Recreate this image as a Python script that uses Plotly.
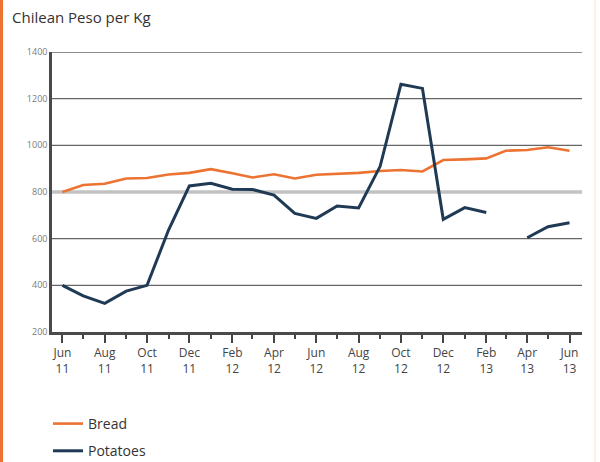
import plotly.graph_objects as go

# Monthly observations, Jun 2011 - Jun 2013
months = [
    "2011-06-01", "2011-07-01", "2011-08-01", "2011-09-01", "2011-10-01",
    "2011-11-01", "2011-12-01", "2012-01-01", "2012-02-01", "2012-03-01",
    "2012-04-01", "2012-05-01", "2012-06-01", "2012-07-01", "2012-08-01",
    "2012-09-01", "2012-10-01", "2012-11-01", "2012-12-01", "2013-01-01",
    "2013-02-01", "2013-03-01", "2013-04-01", "2013-05-01", "2013-06-01",
]
bread = [800, 830, 835, 858, 860, 875, 882, 898, 880, 862, 876, 858, 874,
         877, 882, 890, 894, 888, 937, 940, 944, 977, 980, 992, 977]
potatoes = [400, 355, 323, 375, 400, 637, 826, 837, 812, 811, 787, 708, 687,
            740, 732, 910, 1262, 1244, 683, 733, 712, None, 604, 651, 668]

y_ticks = [200, 400, 600, 800, 1000, 1200, 1400]
highlight_level = 800

ORANGE = "#EC7332"
NAVY = "#203A55"
FONT = "Open Sans"

L, R, T, B = 52, 18, 52, 130
W, H = 600, 462
pw = W - L - R
ph = H - T - B

fig = go.Figure()
fig.add_trace(go.Scatter(x=months, y=bread, name="Bread", mode="lines",
                         line=dict(color=ORANGE, width=2.6), legendgroup="b"))
fig.add_trace(go.Scatter(x=months, y=potatoes, name="Potatoes", mode="lines",
                         line=dict(color=NAVY, width=3), connectgaps=False,
                         legendgroup="p"))

# horizontal gridlines; the 800 level drawn as a wide light band
for v in y_ticks[1:]:
    if v == highlight_level:
        style = dict(color="#c2c2c2", width=3.5)
    else:
        style = dict(color="#666666", width=1.3)
    fig.add_shape(type="line", xref="paper", yref="y", x0=0, x1=1, y0=v, y1=v,
                  line=style, layer="below")

# orange left frame stripe and faint right border
fig.add_shape(type="rect", xref="paper", yref="paper",
              x0=(0 - L) / pw, x1=(3 - L) / pw, y0=-B / ph, y1=1 + T / ph,
              fillcolor=ORANGE, line=dict(width=0), layer="below")
fig.add_shape(type="line", xref="paper", yref="paper",
              x0=(595 - L) / pw, x1=(595 - L) / pw, y0=-B / ph, y1=1 + T / ph,
              line=dict(color="#f6eedf", width=1.5), layer="below")

fig.update_layout(
    width=W, height=H,
    margin=dict(l=L, r=R, t=T, b=B, autoexpand=False),
    paper_bgcolor="white", plot_bgcolor="white",
    font=dict(family=FONT, color="#3a3a3a"),
    title=dict(text="Chilean Peso per Kg", x=12 / W, xanchor="left",
               y=1 - 18 / H, yanchor="middle",
               font=dict(family=FONT, size=15, color="#333333")),
    showlegend=True,
    legend=dict(orientation="v", xref="container", yref="container",
                x=48 / W, xanchor="left", y=1 - 408 / H, yanchor="top",
                font=dict(family=FONT, size=14, color="#333333"),
                tracegroupgap=6, itemwidth=30, bgcolor="rgba(0,0,0,0)"),
    xaxis=dict(
        type="date",
        range=["2011-05-17", "2013-06-19"],
        tickmode="linear", tick0="2011-06-01", dtick="M2",
        tickformat="%b<br>%y",
        ticks="outside", ticklen=8, tickwidth=1.5, tickcolor="#444444",
        minor=dict(dtick="M1", tick0="2011-06-01", ticks="outside", ticklen=4,
                   tickwidth=1.5, tickcolor="#444444", showgrid=False),
        showgrid=False, showline=True, linecolor="#4a4a4a", linewidth=2.5,
        tickfont=dict(family=FONT, size=12, color="#444444"),
        zeroline=False, automargin=False,
    ),
    yaxis=dict(
        range=[200, 1400],
        tickmode="array", tickvals=y_ticks,
        showgrid=False,
        showline=True, linecolor="#4a4a4a", linewidth=2.5,
        ticks="", tickfont=dict(family=FONT, size=9, color="#7a7a7a"),
        zeroline=False, automargin=False,
    ),
)

fig.write_html("out.html")
